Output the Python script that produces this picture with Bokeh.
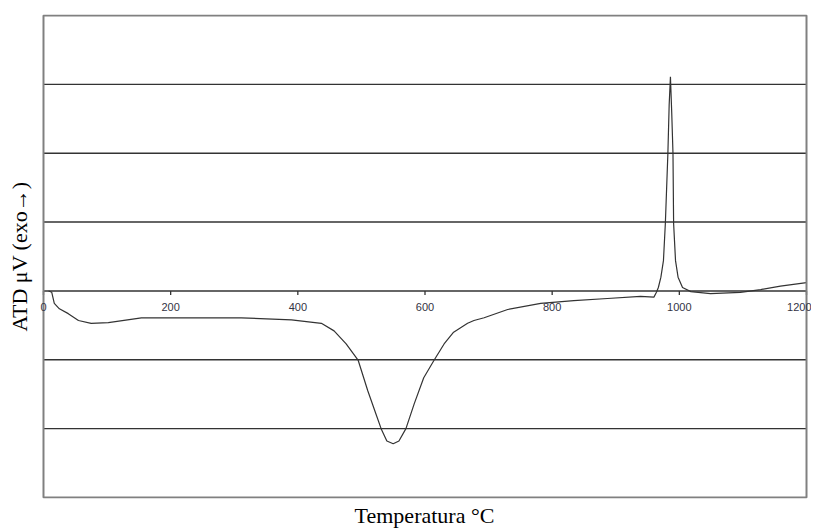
from bokeh.plotting import figure
from bokeh.models import Range1d, Title, Label
from bokeh.embed import file_html
from bokeh.resources import INLINE

# DTA curve (temperature in °C, signal in grid units)
temp = [8, 13, 17, 25, 39, 55, 75, 102, 154, 232, 311, 390, 437, 457, 476, 495,
        510, 523, 531, 540, 550, 559, 570, 583, 598, 614, 630, 645, 667, 677,
        693, 730, 782, 834, 887, 939, 960, 964, 967, 971, 975, 978, 982, 984,
        986, 988, 990, 991, 994, 998, 1005, 1018, 1049, 1096, 1128, 1159, 1200]
signal = [0.0, -0.02, -0.18, -0.26, -0.33, -0.43, -0.47, -0.46, -0.39, -0.39, -0.39,
          -0.42, -0.47, -0.58, -0.77, -1.01, -1.45, -1.79, -2.0, -2.18, -2.22,
          -2.18, -2.0, -1.64, -1.26, -1.01, -0.77, -0.60, -0.47, -0.43, -0.39,
          -0.27, -0.18, -0.14, -0.11, -0.08, -0.09, -0.02, 0.05, 0.2, 0.44, 0.98,
          2.0, 2.7, 3.11, 2.6, 2.0, 0.98, 0.44, 0.2, 0.05, -0.01, -0.04, -0.02,
          0.02, 0.07, 0.12]

x_ticks = [0, 200, 400, 600, 800, 1000, 1200]
x_tick_labels = ["0", "200", "400", "600", "800", "1000", "1200"]
y_grid = [-2, -1, 0, 1, 2, 3]
x_min, x_max = 0, 1200
y_min, y_max = -3, 4

# layout (pixels)
W, H = 811, 530
left_px, top_px = 36, 14
box_left_px, box_right_px = 42, 806
box_top_px, box_bottom_px = 15, 496
px_per_x = (box_right_px - box_left_px) / (x_max - x_min)
px_per_y = (box_bottom_px - box_top_px) / (y_max - y_min)
xr0 = x_min - (box_left_px - left_px) / px_per_x
xr1 = x_min + (W - box_left_px) / px_per_x
yr1 = y_max + (box_top_px - top_px) / px_per_y
yr0 = y_min - 1 / px_per_y

p = figure(width=W, height=H, output_backend="svg", toolbar_location=None,
           x_range=Range1d(xr0, xr1), y_range=Range1d(yr0, yr1),
           min_border_left=left_px, min_border_right=0, min_border_top=top_px,
           min_border_bottom=30)
p.background_fill_color = "white"
p.border_fill_color = "white"
p.outline_line_color = None
p.xaxis.visible = False
p.yaxis.visible = False
p.grid.visible = False

n = len(y_grid)
p.segment(x0=[x_min] * n, y0=y_grid, x1=[x_max] * n, y1=y_grid,
          line_color="#333333", line_width=1.4)

# tick marks and labels on the zero line
tick_len = 4 / px_per_y
p.segment(x0=x_ticks, y0=[0] * len(x_ticks), x1=x_ticks,
          y1=[-tick_len] * len(x_ticks), line_color="#333333", line_width=1.3)
for i, (xv, lab) in enumerate(zip(x_ticks, x_tick_labels)):
    last = i == len(x_ticks) - 1
    p.add_layout(Label(x=xv, y=0, text=lab,
                       text_align="right" if last else "center",
                       x_offset=5 if last else 0,
                       text_baseline="middle", y_offset=-16,
                       text_font="Liberation Sans", text_font_size="11px",
                       text_color="#333344"))

p.line(temp, signal, line_color="#333333", line_width=1.2)

p.quad(left=x_min, right=x_max, bottom=y_min, top=y_max, fill_color=None,
       line_color="#808080", line_width=2)

p.add_layout(Title(text="Temperatura °C", align="center", standoff=5,
                   text_font="Liberation Serif", text_font_size="22px",
                   text_font_style="normal", text_color="black"), "below")
p.add_layout(Title(text="ATD μV (exo→)", align="center", vertical_align="middle",
                   text_font="Liberation Serif", text_font_size="22px",
                   text_font_style="normal", text_color="black"), "left")

open("out.html", "w").write(file_html(p, INLINE))
